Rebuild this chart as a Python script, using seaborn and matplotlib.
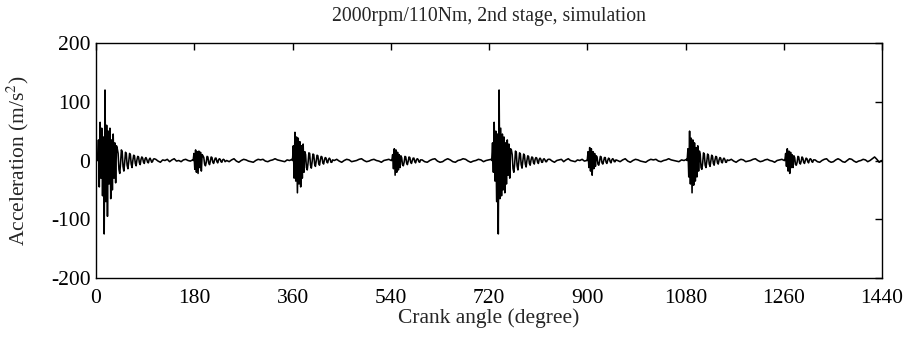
import numpy as np
import pandas as pd
import matplotlib
matplotlib.use("Agg")
import matplotlib.pyplot as plt
import seaborn as sns

# ---- data (acceleration, m/s^2) ----
burst_starts = [3, 178, 360, 542, 725, 900, 1083, 1262]   # crank angle where each burst begins
burst_step = 1.5                                           # degrees between burst samples

burst_0 = [0, 35, -45, 65, -30, 55, -60, 40, -125, 120, -70, 60, -95, 50, -40, 55, -65, 35,
           -50, 45, -30, 30, -38, 25,
           20, 12, -15, -22, -5, 18, 15, -10, -18, -4, 14, 12, -8, -14, -2, 12, 10, -6, -12, 0,
           9, 8, -5, -9, 1, 7, 6, -4, -7, 2, 6, 4, -3, -5, 3, 5, 2, -3, -4, 2, 4, 1, -3, -2, 2, 3]
burst_180 = [0, 12, -15, 18, -20, 15, -22, 16, -12, 14, -18, 10,
             8, 5, -6, -9, -3, 7, 6, -4, -7, -1, 6, 5, -3, -5, 0, 4, 4, -2, -4, 1, 3, 2, -2, -3,
             1, 2, 1, -2]
burst_360 = [0, 25, -30, 48, -35, 40, -55, 38, -40, 32, -45, 25, -30, 28, -20,
             15, 10, -12, -16, -4, 13, 12, -8, -13, -2, 11, 10, -6, -10, 0, 9, 8, -5, -8, 1, 7,
             6, -4, -6, 1, 5, 4, -3, -4, 2, 4, 2, -3, -3, 1]
burst_540 = [0, 10, -14, 20, -25, 18, -20, 14, -16, 10, -12,
             8, 5, -7, -9, -3, 7, 6, -4, -7, -1, 6, 5, -3, -5, 0, 4, 4, -2, -4, 1, 3, 2, -2, -3, 1]
burst_720 = [0, 30, -20, 65, -35, 50, -70, 45, -125, 120, -65, 55, -60, 45, -50, 40, -55, 30,
             -40, 35, -25, 28, -30, 20,
             18, 10, -14, -20, -6, 16, 14, -9, -16, -3, 13, 11, -7, -13, -1, 11, 9, -6, -11, 0,
             8, 7, -5, -8, 1, 6, 5, -4, -6, 2, 5, 4, -3, -5, 2, 4, 2, -3, -3, 2, 3, 1, -2, -2, 1, 2]
burst_900 = [0, 15, -12, 22, -18, 20, -25, 15, -14, 12, -10,
             8, 6, -6, -8, -2, 7, 6, -4, -6, -1, 5, 5, -3, -5, 0, 4, 3, -2, -4, 1, 3, 2, -2, -2, 1]
burst_1080 = [0, 20, -28, 50, -40, 38, -55, 35, -42, 30, -35, 22, -28, 25, -18,
              16, 10, -12, -15, -4, 13, 11, -8, -12, -2, 11, 9, -6, -10, 0, 9, 7, -5, -8, 1, 7,
              6, -4, -6, 1, 5, 4, -3, -4, 2, 4, 2, -3, -3, 1]
burst_1260 = [0, 12, -10, 20, -18, 16, -22, 14, -12, 10, -12,
              8, 5, -7, -8, -3, 7, 6, -4, -6, -1, 6, 4, -3, -5, 0, 4, 3, -2, -4, 1, 3, 2, -2, -3, 1]

# quiet background wiggles between bursts (evenly spread over each gap)
gap_0 = [2, -1, -3, 1, 0, 2, -2, 1, 3, -1, 0, -2, 1, 2, 0, -1, 1]
gap_180 = [0, -2, 1, 3, -1, -3, 0, 2, 1, -1, -2, -3, 0, 2, 1, 2, -1, -2, 0, 1, 3, 1, 0, -1,
           -2, 1, 0, 2]
gap_360 = [0, 2, -1, -3, 0, 2, 1, -2, -1, 0, 2, 3, 0, -2, -1, 1, 2, 0, -1, -3, 0, 1, 2, 0]
gap_540 = [1, -2, -3, 0, 2, 3, -1, -3, -2, 1, 3, 1, -2, -3, 0, 1, 3, 2, -1, -3, -1, 0, 2,
           1, -2, 0, 1, 2]
gap_720 = [2, -1, -3, 0, 1, 2, -2, 1, 3, 0, -1, -2, 1, 0, 2, -1, 0]
gap_900 = [0, -2, 1, 3, -1, -3, 0, 2, 1, -1, -2, -3, 0, 2, 1, 2, -1, -2, 0, 1, 3, 1, 0, -1,
           -2, 1, 0, 2]
gap_1080 = [0, 2, -1, -3, 0, 2, 1, -2, -1, 0, 2, 3, 0, -2, -1, 1, 2, 0, -1, -3, 0, 1, 2, 0]
gap_1260 = [1, -2, -3, 0, 2, 3, -1, -3, -2, 1, 3, 1, -2, -3, 0, 3, 2, -1, -3, -1, 0, 2, 1,
            -2, 0, 3, 6, 2, -3, 0]

bursts = [burst_0, burst_180, burst_360, burst_540, burst_720, burst_900, burst_1080, burst_1260]
gaps = [gap_0, gap_180, gap_360, gap_540, gap_720, gap_900, gap_1080, gap_1260]

xticks = [0, 180, 360, 540, 720, 900, 1080, 1260, 1440]
yticks = [-200, -100, 0, 100, 200]

# ---- assemble the trace ----
angles, values = [0.0], [0.0]
for i, (b, g) in enumerate(zip(bursts, gaps)):
    start = burst_starts[i]
    xb = start + burst_step * np.arange(len(b))
    angles.extend(xb); values.extend(b)
    end = burst_starts[i + 1] if i + 1 < len(burst_starts) else 1440
    xg = np.linspace(xb[-1] + 3, end - 1, len(g))
    angles.extend(xg); values.extend(g)
df = pd.DataFrame({"angle": angles, "acc": values})

# ---- plot ----
sns.set_theme(style="white")
plt.rcParams["font.family"] = ["Liberation Serif", "DejaVu Serif"]
plt.rcParams["mathtext.fontset"] = "stix"
plt.rcParams["axes.unicode_minus"] = False

fig = plt.figure(figsize=(9.11, 3.43), dpi=100)
ax = fig.add_axes([96 / 911, 1 - 278 / 343, 786 / 911, 235 / 343])
sns.lineplot(data=df, x="angle", y="acc", color="black", linewidth=1.15, ax=ax,
             estimator=None, sort=False)

ax.set_xlim(0, 1440)
ax.set_ylim(-200, 200)
ax.set_xticks(xticks)
ax.set_yticks(yticks)
ax.tick_params(axis="both", direction="in", top=True, right=True, length=5, width=1,
               labelsize=15.5, colors="black")
ax.tick_params(axis="x", pad=8)
ax.tick_params(axis="y", pad=4)
for s in ax.spines.values():
    s.set_color("black"); s.set_linewidth(1)
ax.set_title("2000rpm/110Nm, 2nd stage, simulation", fontsize=14.2, pad=16)
ax.set_xlabel("Crank angle (degree)", fontsize=15.5, labelpad=0)
ax.set_ylabel("Acceleration (m/s$^2$)", fontsize=15.5, labelpad=14)

fig.savefig("out.png", dpi=100)
